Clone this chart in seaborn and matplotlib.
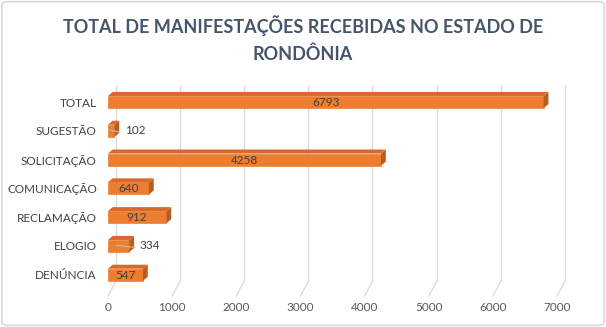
import matplotlib
matplotlib.use("Agg")
import matplotlib.pyplot as plt
import seaborn as sns
import pandas as pd
from matplotlib.patches import Polygon, FancyBboxPatch

categories = ["TOTAL", "SUGESTÃO", "SOLICITAÇÃO", "COMUNICAÇÃO", "RECLAMAÇÃO", "ELOGIO", "DENÚNCIA"]
values = [6793, 102, 4258, 640, 912, 334, 547]
xticks = [0, 1000, 2000, 3000, 4000, 5000, 6000, 7000]
title = "TOTAL DE MANIFESTAÇÕES RECEBIDAS NO ESTADO DE\nRONDÔNIA"

df = pd.DataFrame({"cat": categories, "val": values})

sns.set_theme(style="white")
plt.rcParams["font.family"] = ["Lato", "DejaVu Sans"]

fig = plt.figure(figsize=(6.06, 3.27), dpi=100)
fig.patch.set_facecolor("white")
fig.patches.append(FancyBboxPatch((0.003, 0.005), 0.994, 0.99, boxstyle="round,pad=0,rounding_size=0.01",
                                  transform=fig.transFigure, fill=False, edgecolor="#D9D9D9", linewidth=1.2))
ax = fig.add_axes([0.178, 0.1156, 0.741, 0.6165])

orange = "#ED7D31"
side = "#B85C22"
bh = 0.42
sns.barplot(data=df, x="val", y="cat", orient="h", color=orange, width=bh, ax=ax,
            saturation=1, edgecolor="#F08A40", linewidth=0.6, zorder=3)

ax.set_xlim(0, 7000)
ax.set_ylim(len(categories) - 0.5, -0.5)
ax.set_xticks(xticks)
ax.set_xticklabels([str(t) for t in xticks], fontsize=8.5, color="#595959")
ax.tick_params(axis="x", pad=9, length=0)
ax.tick_params(axis="y", length=0, pad=8)
for lbl in ax.get_yticklabels():
    lbl.set_fontsize(8.5)
    lbl.set_color("#404040")
ax.set_xlabel("")
ax.set_ylabel("")
for s in ax.spines.values():
    s.set_visible(False)

# 3D-style depth offset
dx, dy = 125, 0.28
for t in xticks:
    ax.plot([t + dx, t + dx], [-0.6, len(categories) - 0.5 - dy], color="#D9D9D9", lw=0.9, zorder=1, clip_on=False)
    ax.plot([t, t + dx], [len(categories) - 0.25, len(categories) - 0.5 - dy], color="#D9D9D9", lw=0.9, zorder=1, clip_on=False)

for i, v in enumerate(values):
    y0, y1 = i - bh / 2, i + bh / 2
    ax.add_patch(Polygon([(v, y0), (v + dx * 0.6, y0 - dy * 0.5), (v + dx * 0.6, y1 - dy * 0.5), (v, y1)],
                         closed=True, facecolor=side, edgecolor="none", zorder=3))
    ax.add_patch(Polygon([(0, y0), (dx * 0.6, y0 - dy * 0.5), (v + dx * 0.6, y0 - dy * 0.5), (v, y0)],
                         closed=True, facecolor="#D9692A", edgecolor="none", zorder=3))
    if v > 500:
        ax.text(v / 2, i + 0.02, str(v), ha="center", va="center", fontsize=8.5, color="#404040", zorder=5)
    else:
        ax.plot([v * 0.4, v + 90], [i - 0.02, i + 0.05], color="#BFBFBF", lw=0.8, zorder=5)
        ax.text(v + 160, i, str(v), ha="left", va="center", fontsize=8.5, color="#404040", zorder=5)

fig.text(0.5, 0.88, title, ha="center", va="center", fontsize=13, fontweight="bold",
         color="#44546A", linespacing=1.65)

fig.savefig("out.png", dpi=100)
